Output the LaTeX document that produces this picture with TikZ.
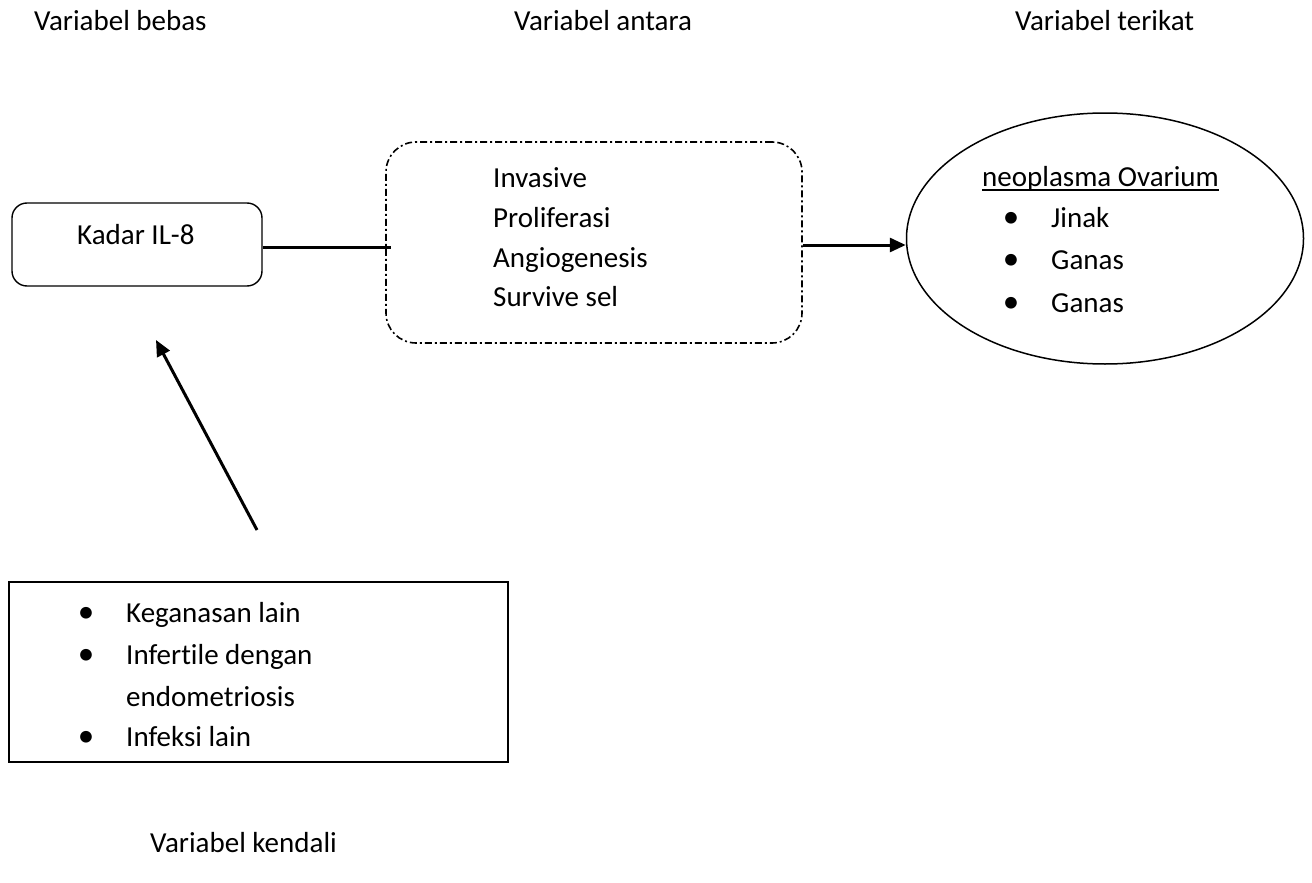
\documentclass[tikz,border=0pt]{standalone}
\usepackage{fontspec}
\setmainfont{Carlito}[Ligatures={NoCommon}]
\usetikzlibrary{shapes.geometric,arrows.meta}
\tikzset{
  txt/.style={inner sep=0pt, anchor=base west, font=\fontsize{29pt}{35pt}\selectfont},
  bul/.style={inner sep=0pt, anchor=base, font=\fontsize{33pt}{35pt}\selectfont},
  roundbox/.style={draw, line width=1.4pt, rounded corners=15pt, inner sep=0pt},
  dashbox/.style={draw, line width=1.6pt, rounded corners=30pt, inner sep=0pt,
    dash pattern=on 7pt off 3pt on 2pt off 3pt},
  plainbox/.style={draw, line width=1.5pt, inner sep=0pt},
  ovalbox/.style={draw, ellipse, line width=1.5pt, inner sep=0pt},
  conn/.style={line width=3pt},
  arr/.style={line width=3pt, -{Triangle[length=16pt,width=14pt]}}
}
\begin{document}
\begin{tikzpicture}[x=1pt,y=-1pt]
\useasboundingbox (0,0) rectangle (1312,883);
% titles
\node[txt] (tbebas) at (34,31) {Variabel bebas};
\node[txt] (tantara) at (514,31) {Variabel antara};
\node[txt] (tterikat) at (1015,31) {Variabel terikat};
\node[txt] (tkendali) at (150,852) {Variabel kendali};
% Kadar box
\node[roundbox, minimum width=250pt, minimum height=83pt] (kadar) at (137,244.5) {};
\node[txt] (kadart) at (77,244) {Kadar IL-8};
% dash-dot box
\node[dashbox, minimum width=416pt, minimum height=201pt] (mid) at (594,242.5) {};
\node[txt] (m1) at (493,187) {Invasive};
\node[txt] (m2) at (493,227) {Proliferasi};
\node[txt] (m3) at (493,267) {Angiogenesis};
\node[txt] (m4) at (493,306) {Survive sel};
% ellipse
\node[ovalbox, minimum width=397pt, minimum height=251pt] (ell) at (1105,238.5) {};
\node[txt] (neo) at (982,186) {neoplasma Ovarium};
\draw[line width=1.4pt] ([yshift=-4pt]neo.base west) -- ([yshift=-4pt]neo.base east);
\node[bul] (eb1) at (1011,227) {\textbullet};
\node[txt] (e1) at (1051,227) {Jinak};
\node[bul] (eb2) at (1011,269) {\textbullet};
\node[txt] (e2) at (1051,269) {Ganas};
\node[bul] (eb3) at (1011,312) {\textbullet};
\node[txt] (e3) at (1051,312) {Ganas};
% bottom box
\node[plainbox, minimum width=499pt, minimum height=180pt] (ctrl) at (258.5,672) {};
\node[bul] (cb1) at (86,622) {\textbullet};
\node[txt] (c1) at (126,622) {Keganasan lain};
\node[bul] (cb2) at (86,664) {\textbullet};
\node[txt] (c2) at (126,664) {Infertile dengan};
\node[txt] (c3) at (126,706) {endometriosis};
\node[bul] (cb4) at (86,746) {\textbullet};
\node[txt] (c4) at (126,746) {Infeksi lain};
% connectors
\draw[conn, shorten >=-6pt] (kadar.east |- 0,247) -- (mid.west |- 0,247);
\draw[arr] (mid.east |- 0,245) -- (ell.west |- 0,245);
\coordinate (atail) at (257,530);
\coordinate (ahead) at (156,340);
\draw[arr] (atail) -- (ahead);
\end{tikzpicture}
\end{document}
